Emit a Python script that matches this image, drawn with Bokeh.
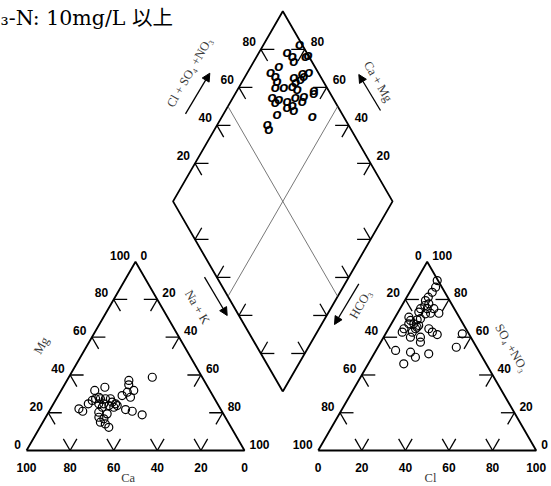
import math
from bokeh.plotting import figure
from bokeh.models import Range1d, ColumnDataSource, Arrow, NormalHead
from bokeh.core.properties import value
from bokeh.embed import file_html
from bokeh.resources import INLINE

# ---------------- data ----------------
title_text = "₃-N: 10mg/L 以上"

# cation triangle (percent of meq): Ca, Mg  (Na+K = 100 - Ca - Mg)
cation_ca = [22.9, 34.5, 35.7, 34.9, 38.3, 41.6, 38.2, 47.3, 52.8, 52.7, 54.6, 52.4,
             56.6, 50.1, 47.8, 47.9, 46.8, 46.5, 48.5, 50.3, 52.2, 54.5, 59.3, 64.9,
             63.8, 43.7, 41.1, 37.5, 56.7, 53.3, 58.0, 56.1, 58.6, 56.8, 56.1, 53.8]
cation_mg = [38.8, 37.1, 34.8, 31.8, 30.9, 29.1, 28.2, 33.5, 31.8, 28.2, 27.4, 27.4,
             26.5, 27.4, 27.4, 25.6, 24.7, 23.8, 22.9, 23.8, 24.7, 24.7, 24.7, 22.1,
             20.8, 21.7, 20.8, 18.9, 20.3, 19.4, 17.6, 16.8, 15.0, 14.1, 12.3, 22.9]

# anion triangle: Cl, SO4+NO3  (HCO3 = 100 - Cl - SO4)
anion_cl = [9.6, 10.6, 10.4, 9.9, 9.5, 11.9, 10.5, 9.4, 12.5, 15.5, 9.5, 13.0, 15.2,
            19.0, 6.3, 7.9, 10.8, 12.0, 10.3, 8.0, 13.0, 12.4, 12.7, 7.1, 7.2, 11.8,
            18.5, 21.0, 23.9, 12.3, 16.9, 18.2, 35.2, 36.0, 9.0, 16.3, 19.9, 25.1, 16.3]
anion_so4 = [90.0, 86.5, 83.8, 81.2, 79.4, 77.7, 76.8, 75.1, 75.1, 75.1, 73.3, 72.4, 72.7,
             72.7, 70.6, 68.9, 69.2, 69.8, 67.1, 67.1, 66.2, 64.5, 65.3, 64.5, 62.7, 62.7,
             64.5, 62.7, 61.4, 60.0, 60.0, 57.4, 61.8, 54.7, 53.0, 52.1, 49.4, 51.2, 45.9]

# diamond: Cl+SO4+NO3, Ca+Mg
diamond_clso4 = [98.9, 91.1, 92.5, 91.9, 98.6, 100.0, 83.7, 78.2, 79.6, 79.1, 76.5, 80.3,
                 84.6, 87.0, 90.2, 92.5, 95.7, 92.4, 93.2, 92.4, 72.4, 75.0, 78.4, 83.0,
                 87.3, 85.2, 72.6, 76.6, 78.8, 79.4, 70.3, 85.9, 63.2, 62.6, 87.5, 86.1]
diamond_camg = [83.6, 87.1, 83.9, 81.9, 77.8, 77.0, 87.4, 89.4, 86.3, 84.2, 83.2, 79.4,
                76.0, 75.4, 74.0, 73.4, 72.0, 74.7, 64.9, 64.2, 82.1, 78.7, 74.4, 71.5,
                68.1, 67.5, 79.3, 72.6, 68.8, 70.8, 75.4, 59.0, 77.4, 75.4, 77.5, 72.9]

tri_ticks = [0, 20, 40, 60, 80, 100]
dia_ticks = [20, 40, 60, 80]

# ---------------- geometry (pixel-like data units) ----------------
S = math.sqrt(3) / 2
L = 218.0
LD = 219.5
LEFT0 = (26.0, 36.0)
RIGHT0 = (317.7, 36.0)
DB = (282.3, 95.0)
STUB = 13.5
W, H = 551, 486


def scr(X, Y):
    return X, 486.0 - Y


def tri_pt(o, r, t):
    return (o[0] + L * (r + t / 2.0), o[1] + L * S * t)


def dia_pt(a, c):
    return (DB[0] + LD / 2.0 * (a - c), DB[1] + LD * S * (a + c))


p = figure(width=W, height=H, x_range=Range1d(0, W), y_range=Range1d(0, H),
           output_backend="svg", toolbar_location=None, x_axis_type=None,
           y_axis_type=None, min_border=0, outline_line_color=None)
p.background_fill_color = "white"
p.border_fill_color = "white"

# outlines
for o in (LEFT0, RIGHT0):
    pts = [tri_pt(o, 0, 0), tri_pt(o, 1, 0), tri_pt(o, 0, 1), tri_pt(o, 0, 0)]
    p.line([q[0] for q in pts], [q[1] for q in pts], line_color="black", line_width=1.8)
dpts = [dia_pt(0, 0), dia_pt(1, 0), dia_pt(1, 1), dia_pt(0, 1), dia_pt(0, 0)]
p.line([q[0] for q in dpts], [q[1] for q in dpts], line_color="black", line_width=1.8)

# thin 50% lines in diamond
xl = [[dia_pt(0.5, 1)[0], dia_pt(0.5, 0)[0]], [dia_pt(1, 0.5)[0], dia_pt(0, 0.5)[0]]]
yl = [[dia_pt(0.5, 1)[1], dia_pt(0.5, 0)[1]], [dia_pt(1, 0.5)[1], dia_pt(0, 0.5)[1]]]
p.multi_line(xl, yl, line_color="#555555", line_width=0.8)

# tick stubs
sx, sy = [], []


def stub(pt, d):
    sx.append([pt[0], pt[0] + d[0]])
    sy.append([pt[1], pt[1] + d[1]])


for t in tri_ticks[1:-1]:
    f = t / 100.0
    for o in (LEFT0, RIGHT0):
        a = tri_pt(o, 0, f)
        stub(a, (STUB, 0)); stub(a, (STUB / 2, -STUB * S))
        b = tri_pt(o, 1 - f, f)
        stub(b, (-STUB, 0)); stub(b, (-STUB / 2, -STUB * S))
        c = tri_pt(o, f, 0)
        stub(c, (-STUB / 2, STUB * S)); stub(c, (STUB / 2, STUB * S))
for t in dia_ticks:
    f = t / 100.0
    a = dia_pt(f, 1); stub(a, (STUB, 0)); stub(a, (STUB / 2, -STUB * S))
    b = dia_pt(1, f); stub(b, (-STUB, 0)); stub(b, (-STUB / 2, -STUB * S))
    c = dia_pt(0, f); stub(c, (STUB, 0)); stub(c, (STUB / 2, STUB * S))
    d = dia_pt(f, 0); stub(d, (-STUB, 0)); stub(d, (-STUB / 2, STUB * S))
p.multi_line(sx, sy, line_color="black", line_width=1.3)

# tick labels
lab = {"right": ([], [], []), "left": ([], [], []), "center": ([], [], [])}


def add_lab(al, x, y, txt):
    lab[al][0].append(x); lab[al][1].append(y); lab[al][2].append(txt)


for t in tri_ticks:
    f = t / 100.0
    # left triangle
    x, y = tri_pt(LEFT0, 0, f); add_lab("right", x - 5.5, y + 6.5, str(t))          # Mg
    x, y = tri_pt(LEFT0, f, 1 - f); add_lab("left", x + 5, y + 6.5, str(t))         # Na+K
    x, y = tri_pt(LEFT0, 1 - f, 0); add_lab("center", x, y - 16.7, str(t))          # Ca
    # right triangle
    x, y = tri_pt(RIGHT0, 0, 1 - f); add_lab("right", x - 5.5, y + 6.5, str(t))     # HCO3
    x, y = tri_pt(RIGHT0, 1 - f, f); add_lab("left", x + 5, y + 6.5, str(t))        # SO4+NO3
    x, y = tri_pt(RIGHT0, f, 0); add_lab("center", x, y - 16.7, str(t))             # Cl
for t in dia_ticks:
    f = t / 100.0
    x, y = dia_pt(f, 1); add_lab("right", x - 5, y + 7.5, str(t))
    x, y = dia_pt(1, f); add_lab("left", x + 6, y + 7.5, str(t))

for al, (xs, ys, ts) in lab.items():
    src = ColumnDataSource(dict(x=xs, y=ys, t=ts))
    p.text(x="x", y="y", text="t", source=src, text_align=al, text_baseline="middle",
           text_font=value("Liberation Sans"), text_font_style="bold",
           text_font_size="12px", text_color="black")

# axis titles
titles = [("Cl + SO₄ +NO₃", 189, 72, 60), ("Ca + Mg", 377.5, 81, -60),
          ("Na + K", 196.7, 306.7, -60), ("HCO₃", 360, 304, 60),
          ("Mg", 41, 345, 60), ("SO₄ +NO₃", 511, 347.5, -60),
          ("Ca", 127.7, 477.5, 0), ("Cl", 430, 477.5, 0)]
tsrc = ColumnDataSource(dict(
    x=[scr(a[1], a[2])[0] for a in titles], y=[scr(a[1], a[2])[1] for a in titles],
    t=[a[0] for a in titles], ang=[math.radians(a[3]) for a in titles]))
p.text(x="x", y="y", text="t", angle="ang", source=tsrc, text_align="center",
       text_baseline="middle", text_font=value("Liberation Serif, DejaVu Serif"),
       text_font_size="12.5px", text_color="#3a3a3a")

# arrows
for (x0, y0, x1, y1) in [(185, 113.3, 209.3, 72.7), (380, 110, 358.3, 74),
                         (204, 276.7, 226.7, 315), (358.3, 283.3, 334, 324)]:
    a0 = scr(x0, y0); a1 = scr(x1, y1)
    p.add_layout(Arrow(end=NormalHead(size=8, fill_color="black", line_color="black"),
                       x_start=a0[0], y_start=a0[1], x_end=a1[0], y_end=a1[1],
                       line_width=1.3, line_color="black"))

# data points
cx, cy = [], []
for ca, mg in zip(cation_ca, cation_mg):
    nak = 100 - ca - mg
    x, y = tri_pt(LEFT0, nak / 100.0, mg / 100.0); cx.append(x); cy.append(y)
p.scatter(cx, cy, marker="circle", size=8, fill_color=None, line_color="black", line_width=1.2)

ax, ay = [], []
for cl, so4 in zip(anion_cl, anion_so4):
    x, y = tri_pt(RIGHT0, cl / 100.0, so4 / 100.0); ax.append(x); ay.append(y)
p.scatter(ax, ay, marker="circle", size=8, fill_color=None, line_color="black", line_width=1.2)

dx, dy = [], []
for a, c in zip(diamond_clso4, diamond_camg):
    x, y = dia_pt(a / 100.0, c / 100.0); dx.append(x); dy.append(y)
dsrc = ColumnDataSource(dict(x=dx, y=dy, t=["o"] * len(dx)))
p.text(x="x", y="y", text="t", source=dsrc, text_align="center", text_baseline="middle",
       text_font=value("Liberation Sans"), text_font_style="bold italic",
       text_font_size="15px", text_color="black", y_offset=-1)

# title
tx, ty = scr(0, 17.5)
p.text(x=[tx], y=[ty], text=[title_text], text_align="left", text_baseline="alphabetic",
       text_font=value("DejaVu Serif, Noto Sans CJK JP"), text_font_size="20.5px",
       text_color="black")

open("out.html", "w").write(file_html(p, INLINE))
